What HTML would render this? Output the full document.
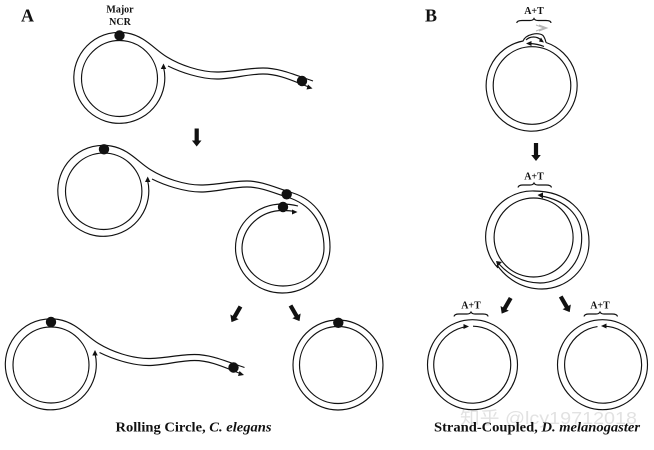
<!DOCTYPE html>
<html>
<head>
<meta charset="utf-8">
<style>
html,body{margin:0;padding:0;background:#fff;width:654px;height:450px;overflow:hidden}
svg{display:block}
text{font-family:"Liberation Serif","Noto Sans CJK SC",serif;fill:#111}
.l{fill:none;stroke:#111;stroke-width:1.15}
</style>
</head>
<body>
<svg width="654" height="450" viewBox="0 0 654 450" xmlns="http://www.w3.org/2000/svg">
<defs>
<polygon id="ar" points="-2.1,0 2.1,0 2.1,12 4.8,12 0,18 -4.8,12 -2.1,12" fill="#111"/>
<g id="rc">
<circle class="l" cx="119.5" cy="78.5" r="38"/>
<path class="l" d="M163.5 67 A45.5 45.5 0 1 1 127 33 C145 36 155 50 167 57 C180 65 200 72 217 72 C232 72 248 68 263 68 C280 68 295 75 313 81"/>
<path class="l" d="M168 66 C180 72 200 79 217 79 C232 79 248 74 263 74 C280 74 295 82 309 87"/>
<polygon points="163.5,63.5 160.8,69 166.2,69" fill="#111"/>
<polygon points="312.5,88.5 306.5,89.5 308,84.5" fill="#111"/>
<circle cx="119.5" cy="35.5" r="5.2" fill="#111"/>
<circle cx="302" cy="81" r="5.2" fill="#111"/>
</g>
</defs>

<!-- watermark -->
<text x="460" y="424" font-size="17.5" textLength="177" lengthAdjust="spacingAndGlyphs" style="font-family:'Liberation Sans','Noto Sans CJK SC',sans-serif;fill:#e2e2e2">知乎 @lcy19712018</text>

<!-- A -->
<text x="21" y="21.5" font-size="18" font-weight="bold">A</text>
<text x="120" y="12.5" font-size="10" font-weight="bold" text-anchor="middle">Major</text>
<text x="120" y="25" font-size="10" font-weight="bold" text-anchor="middle">NCR</text>
<use href="#rc"/>
<use href="#ar" transform="translate(196.7,128.5)"/>

<!-- A second -->
<circle class="l" cx="103.7" cy="191.3" r="38.2"/>
<path class="l" d="M147.5 180 A45.5 45.5 0 1 1 111 146 C129 149 139 163 151 170 C164 178 184 185 201 185 C216 185 232 181 247 181 C262 181 276 188 293 193 C315 200 330 220 330 247 A47.5 46 0 0 1 282 293 A46.5 45 0 0 1 235.5 248 C235.5 222 258 204 282 204 Q290 204 298 206"/>
<path class="l" d="M152 179 C164 185 184 192 201 192 C216 192 232 187 247 187 C262 187 276 194 287 197 C310 204 324 222 324 248 A41 38 0 0 1 283 286 A41 38 0 0 1 242 248 A41 38 0 0 1 283 210.5 Q290 210.5 294 211.5"/>
<polygon points="147.7,176.5 145,182 150.4,182" fill="#111"/>
<polygon points="297.5,212 292,209.5 292,214.5" fill="#111"/>
<circle cx="104" cy="149.3" r="5.2" fill="#111"/>
<circle cx="286.7" cy="194.3" r="5.2" fill="#111"/>
<circle cx="283" cy="207" r="5.2" fill="#111"/>

<use href="#ar" transform="translate(240.5,306.5) rotate(30)"/>
<use href="#ar" transform="translate(290.5,305.5) rotate(-30)"/>

<!-- A third -->
<use href="#rc" transform="translate(-68.5,286.5)"/>

<!-- A fourth -->
<circle class="l" cx="338" cy="365" r="38.5"/>
<circle class="l" cx="338" cy="365" r="45"/>
<circle cx="338.3" cy="322.8" r="5.2" fill="#111"/>

<text x="115.5" y="431.5" font-size="13.4" font-weight="bold" textLength="156" lengthAdjust="spacingAndGlyphs">Rolling Circle, <tspan font-style="italic">C. elegans</tspan></text>

<!-- B -->
<text x="425" y="21.5" font-size="18" font-weight="bold">B</text>

<text x="534" y="14" font-size="10" font-weight="bold" text-anchor="middle">A+T</text>
<path class="l" d="M516.7 23 Q517 20.5 522 20.5 L530 20.5 Q533 20.5 534 18.5 Q535 20.5 538 20.5 L546 20.5 Q551 20.5 551 23" stroke-width=".9"/>
<path d="M536 25 L544 28 L536 31 M539 25 L547 28 L539 31" fill="none" stroke="#b5b5b5" stroke-width="1"/>
<path class="l" d="M546 42.5 A45.5 45.5 0 1 1 523 41 C526 34 538 32 543 35.5 Q545 38 546 42.5"/>
<circle class="l" cx="532" cy="85.5" r="38.8"/>
<path class="l" d="M526 40 C530 36 537 36 541 40"/>
<path class="l" d="M530 43.5 Q538 44 544 46.5"/>
<polygon points="544,42.5 539,41.5 541,37.5" fill="#111"/>
<polygon points="526,43.5 531.5,41 531.5,46" fill="#111"/>

<use href="#ar" transform="translate(536,143)"/>

<text x="534" y="179.5" font-size="10" font-weight="bold" text-anchor="middle">A+T</text>
<path class="l" d="M518 187.5 Q518.5 185 523 185 L530 185 Q533 185 534 183 Q535 185 538 185 L546 185 Q551 185 551.5 187.5" stroke-width=".9"/>
<circle class="l" cx="533.6" cy="237.5" r="39.5"/>
<path class="l" d="M498 268 A47.3 46 0 0 1 534 191 C565 191 589 210 589 242 C589 270 566 289 542 289 C522 289 507 279 497 265"/>
<path class="l" d="M541 196 C564 200 581.7 214 581.7 238 C581.7 264 562 283 540 283 C522 283 508 274 499 264"/>
<polygon points="537.5,195 543,192.5 543,198.5" fill="#111"/>
<polygon points="496,261 502,262 497.5,266.5" fill="#111"/>

<use href="#ar" transform="translate(510.7,298) rotate(30)"/>
<use href="#ar" transform="translate(560.7,296.5) rotate(-30)"/>

<text x="471" y="308.5" font-size="10" font-weight="bold" text-anchor="middle">A+T</text>
<path class="l" d="M454 316.5 Q454.5 314 459 314 L467 314 Q470 314 471 312 Q472 314 475 314 L483 314 Q488 314 488 316.5" stroke-width=".9"/>
<circle class="l" cx="472.5" cy="364.7" r="45"/>
<path class="l" d="M473 326.2 A38.5 38.5 0 1 1 466 326.7"/>
<polygon points="469,326.5 463.5,324 463.5,329" fill="#111"/>

<text x="600" y="308.5" font-size="10" font-weight="bold" text-anchor="middle">A+T</text>
<path class="l" d="M584 316.5 Q584.5 314 589 314 L596 314 Q599 314 600 312 Q601 314 604 314 L612 314 Q617 314 617.5 316.5" stroke-width=".9"/>
<circle class="l" cx="602.5" cy="364.7" r="45"/>
<path class="l" d="M604 326.2 A38.5 38.5 0 1 1 597.5 326.6"/>
<polygon points="601,326 606.5,323.5 606.5,328.5" fill="#111"/>

<text x="434" y="431.5" font-size="13.4" font-weight="bold" textLength="206" lengthAdjust="spacingAndGlyphs">Strand-Coupled, <tspan font-style="italic">D. melanogaster</tspan></text>
</svg>
</body>
</html>
